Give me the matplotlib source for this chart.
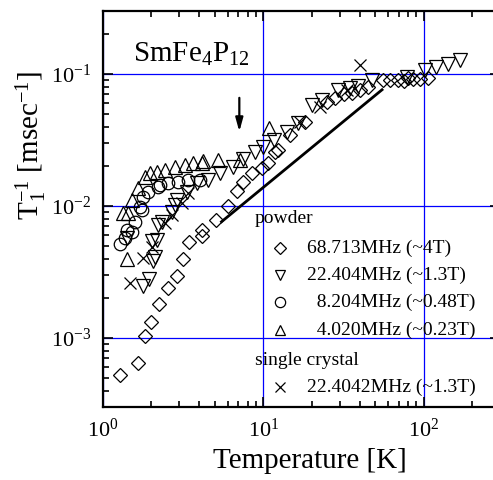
import numpy as np
import matplotlib.pyplot as plt

plt.rcParams['font.family'] = ['Liberation Serif', 'DejaVu Serif']
plt.rcParams['mathtext.fontset'] = 'custom'
plt.rcParams['mathtext.rm'] = 'Liberation Serif'
plt.rcParams['mathtext.it'] = 'Liberation Serif:italic'
plt.rcParams['axes.unicode_minus'] = False

# powder 68.713 MHz (~4T)
T_d = [1.28, 1.65, 1.83, 1.99, 2.25, 2.56, 2.92, 3.18, 3.46, 4.14, 4.17, 5.06, 6.01,
       6.84, 7.52, 8.48, 9.79, 10.7, 11.9, 12.4, 14.7, 18.2, 24.9, 28, 32, 35.6, 40,
       45.2, 56, 62, 69.5, 75, 80, 86, 95, 107]
R_d = [5.25e-4, 6.5e-4, 1.04e-3, 1.33e-3, 1.81e-3, 2.40e-3, 2.95e-3, 3.95e-3, 5.37e-3,
       6.58e-3, 5.93e-3, 7.9e-3, 1.0e-2, 1.31e-2, 1.53e-2, 1.77e-2, 1.94e-2, 2.1e-2,
       2.58e-2, 2.65e-2, 3.45e-2, 4.35e-2, 6.17e-2, 6.6e-2, 7.0e-2, 7.14e-2, 7.6e-2,
       8.0e-2, 9.0e-2, 9.0e-2, 9.0e-2, 8.9e-2, 9.3e-2, 9.2e-2, 9.1e-2, 9.4e-2]

# powder 22.404 MHz (~1.3T)
T_v = [1.41, 1.79, 1.95, 2.02, 2.07, 2.12, 2.17, 2.20, 2.33, 2.69, 2.82, 2.89, 3.34,
       3.85, 4.55, 5.38, 6.51, 7.52, 8.89, 10.0, 11.6, 14.0, 16.5, 20.1, 23.2, 29.4,
       34.7, 39.2, 47.4, 78.3, 102, 120, 142, 168]
R_v = [5.7e-3, 2.48e-3, 2.8e-3, 5.4e-3, 3.86e-3, 4.13e-3, 5.52e-3, 7.2e-3, 7.6e-3,
       9.05e-3, 1.02e-2, 1.12e-2, 1.28e-2, 1.49e-2, 1.57e-2, 1.77e-2, 1.99e-2, 2.26e-2,
       2.58e-2, 2.81e-2, 3.16e-2, 3.66e-2, 4.24e-2, 5.82e-2, 6.35e-2, 7.57e-2, 7.8e-2,
       8.1e-2, 9.0e-2, 9.55e-2, 0.107, 0.114, 0.12, 0.128]

# powder 8.204 MHz (~0.48T)
T_o = [1.28, 1.38, 1.41, 1.52, 1.59, 1.71, 1.75, 1.79, 1.92, 2.22, 2.28, 2.56, 2.96,
       3.41, 4.04]
R_o = [5.2e-3, 5.7e-3, 6.6e-3, 6.4e-3, 7.6e-3, 9.9e-3, 9.3e-3, 1.18e-2, 1.28e-2,
       1.4e-2, 1.44e-2, 1.49e-2, 1.53e-2, 1.57e-2, 1.57e-2]

# powder 4.020 MHz (~0.23T)
T_u = [1.41, 1.34, 1.44, 1.52, 1.67, 1.83, 1.97, 2.17, 2.44, 2.82, 3.26, 3.67, 4.14,
       4.2, 5.25, 7.17, 10.8]
R_u = [3.97e-3, 8.8e-3, 8.8e-3, 1.11e-2, 1.36e-2, 1.67e-2, 1.77e-2, 1.82e-2, 1.87e-2,
       1.99e-2, 2.05e-2, 2.1e-2, 2.13e-2, 2.2e-2, 2.23e-2, 2.23e-2, 3.88e-2]

# single crystal 22.4042 MHz (~1.3T)
T_x = [1.48, 1.79, 2.02, 2.44, 2.69, 3.1, 3.41, 17.0, 22.6, 33.1, 40.1]
R_x = [2.63e-3, 4.02e-3, 4.92e-3, 7.4e-3, 8.55e-3, 1.05e-2, 1.25e-2, 4.35e-2,
       5.65e-2, 7.57e-2, 0.117]

# T-linear guide line and arrow
T_line = [5.5, 55]
R_line = [7.6e-3, 7.6e-2]
T_arrow = 7.1
R_arrow = [0.066, 0.0366]

legend_labels = ['68.713MHz (~4T)', '22.404MHz (~1.3T)', '  8.204MHz (~0.48T)',
                 '  4.020MHz (~0.23T)']

fig = plt.figure(figsize=(4.93, 4.80), dpi=100)
ax = fig.add_axes([0.2083, 0.152, 0.8065, 0.825])

ax.set_xscale('log')
ax.set_yscale('log')
ax.set_xlim(1, 300)
ax.set_ylim(3e-4, 0.3)

ax.grid(which='major', color='#0000ff', lw=0.9, zorder=0)
ax.set_axisbelow(True)

kw = dict(ls='none', mfc='none', mec='k', mew=0.9, zorder=3)
ax.plot(T_d, R_d, marker='D', ms=7.6, **kw)
ax.plot(T_v, R_v, marker='v', ms=9.5, **kw)
ax.plot(T_o, R_o, marker='o', ms=9, **kw)
ax.plot(T_u, R_u, marker='^', ms=9.5, **kw)
ax.plot(T_x, R_x, marker='x', ms=8.5, **kw)

ax.plot(T_line, R_line, color='k', lw=2.0, zorder=4)
ax.annotate('', xy=(T_arrow, R_arrow[1]), xytext=(T_arrow, R_arrow[0]),
            arrowprops=dict(arrowstyle='-|>,head_width=0.22,head_length=0.8',
                            color='k', lw=1.6, shrinkA=0, shrinkB=0))

ax.text(0.076, 0.871, 'SmFe$_4$P$_{12}$', transform=ax.transAxes, fontsize=21,
        va='baseline', ha='left')

# hand-made legend
ax.text(0.383, 0.465, 'powder', transform=ax.transAxes, fontsize=14, va='baseline')
leg_y = [0.4015, 0.3333, 0.265, 0.1944]
leg_m = [('D', 6.2), ('v', 7.8), ('o', 7.4), ('^', 7.8)]
for y, (m, s), lab in zip(leg_y, leg_m, legend_labels):
    ax.plot([0.446], [y], marker=m, ms=s, ls='none', mfc='none', mec='k', mew=0.9,
            transform=ax.transAxes, clip_on=False)
    ax.text(0.514, y, lab, transform=ax.transAxes, fontsize=14, va='center')
ax.text(0.383, 0.106, 'single crystal', transform=ax.transAxes, fontsize=14,
        va='baseline')
ax.plot([0.446], [0.0505], marker='x', ms=7.4, ls='none', mec='k', mew=0.9,
        transform=ax.transAxes, clip_on=False)
ax.text(0.514, 0.0505, '22.4042MHz (~1.3T)', transform=ax.transAxes, fontsize=14,
        va='center')

for s in ax.spines.values():
    s.set_linewidth(1.6)
ax.tick_params(which='both', direction='in', top=True, right=True, labelsize=16,
               pad=8, width=1.2)
ax.tick_params(which='major', length=7)
ax.tick_params(which='minor', length=4)

ax.set_xlabel('Temperature [K]', fontsize=21)
ax.xaxis.set_label_coords(0.521, -0.104)
ax.set_ylabel('T$_1^{-1}$ [msec$^{-1}$]', fontsize=21)
ax.yaxis.set_label_coords(-0.135, 0.66)

fig.savefig('out.png', dpi=100)
